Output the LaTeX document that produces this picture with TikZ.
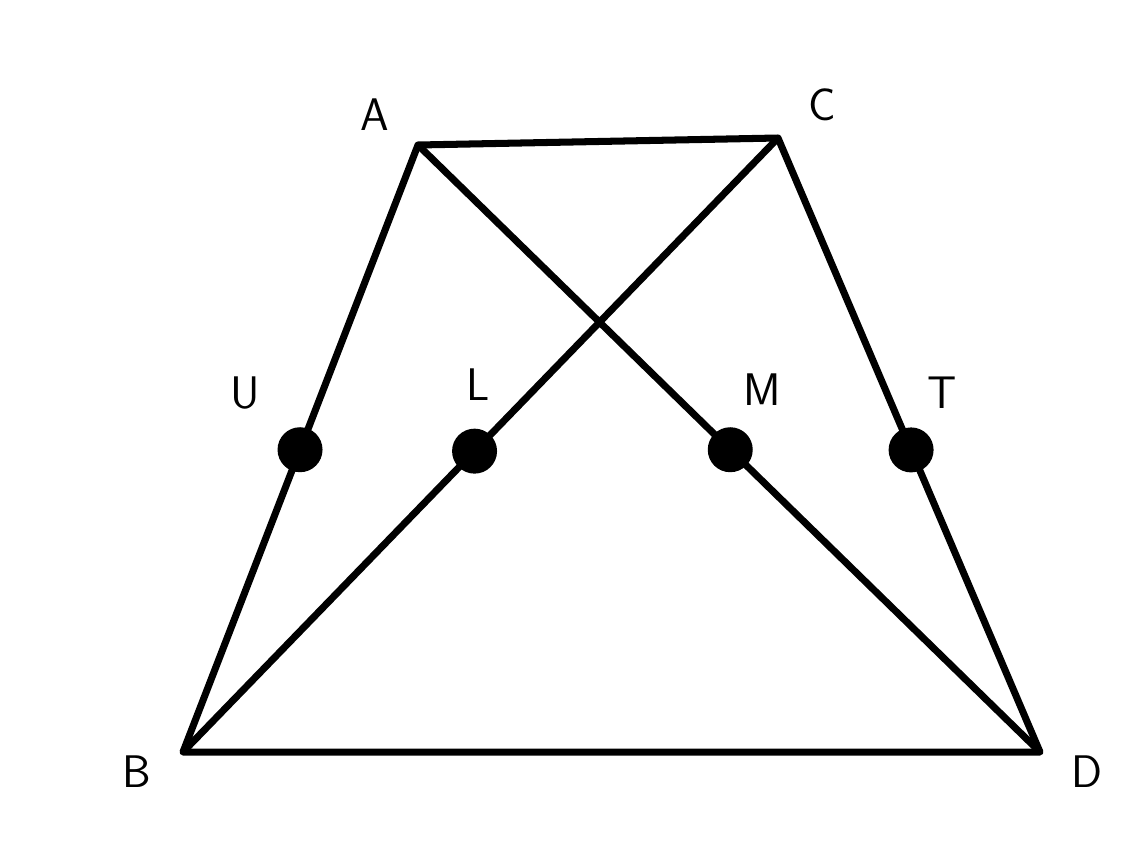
\documentclass[tikz,border=0pt]{standalone}
\usepackage{tikz}
\usetikzlibrary{calc}

\begin{document}
\begin{tikzpicture}[x=0.02cm, y=-0.02cm, line width=4pt, line join=round,
    dot/.style={circle, fill=black, inner sep=0pt, minimum size=0.9cm},
    lbl/.style={font=\fontsize{26}{28}\sffamily}]
  \useasboundingbox (0,0) rectangle (1142,866);
  \coordinate (A) at (418,145);
  \coordinate (C) at (778,138);
  \coordinate (B) at (183,752);
  \coordinate (D) at (1040,752);
  \draw (B) -- (A) -- (C) -- (D) -- cycle;
  \draw (A) -- (D);
  \draw (C) -- (B);
  \node[dot] (U) at ($(A)!0.502!(B)$) {};
  \node[dot] (L) at ($(C)!0.51!(B)$) {};
  \node[dot] (M) at ($(A)!0.502!(D)$) {};
  \node[dot] (T) at ($(C)!0.508!(D)$) {};
  \node[lbl] (lA) at (375,115) {A};
  \node[lbl] (lC) at (822,105) {C};
  \node[lbl] (lB) at (137,772) {B};
  \node[lbl] (lD) at (1087,772) {D};
  \node[lbl] (lU) at (245,393) {U};
  \node[lbl] (lL) at (478,385) {L};
  \node[lbl] (lM) at (762,390) {M};
  \node[lbl] (lT) at (942,393) {T};
\end{tikzpicture}
\end{document}
